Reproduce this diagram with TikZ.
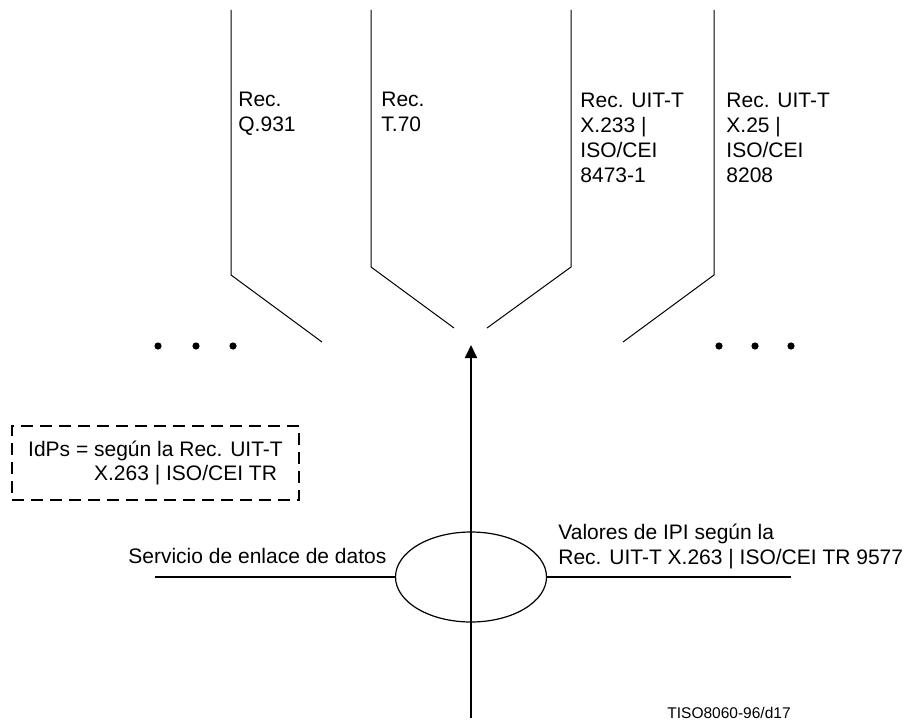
\documentclass[tikz,border=0pt]{standalone}
\usepackage{fontspec}
\setmainfont{Liberation Sans}
\usetikzlibrary{arrows.meta,shapes.geometric,positioning}

\begin{document}
\begin{tikzpicture}[
    x=0.5pt, y=-0.5pt,
    lbl/.style={inner sep=0pt, anchor=north west, align=left, font=\fontsize{10.5}{12.5}\selectfont},
    branch/.style={line width=0.5pt},
    lead/.style={line width=1pt},
    arr/.style={-{Triangle[length=6.5pt, width=6pt]}, line width=1pt},
    dot/.style={circle, fill, inner sep=0pt, minimum size=3.6pt},
    note/.style={draw, dash pattern=on 6pt off 3.5pt, line width=0.9pt, minimum width=143.5pt, minimum height=37pt, align=left, font=\fontsize{10.5}{12}\selectfont}
]
\useasboundingbox (0,0) rectangle (908,727);

\coordinate (qTop) at (231,10);
\coordinate (qBend) at (231,275);
\coordinate (qEnd) at (322,342);
\coordinate (tTop) at (371,10);
\coordinate (tBend) at (371,267);
\coordinate (tEnd) at (454,328);
\coordinate (xTop) at (571,10);
\coordinate (xBend) at (571,267);
\coordinate (xEnd) at (487,328);
\coordinate (pTop) at (714,10);
\coordinate (pBend) at (714,275);
\coordinate (pEnd) at (623,342);

\draw[branch] (qTop) -- (qBend) -- (qEnd);
\draw[branch] (tTop) -- (tBend) -- (tEnd);
\draw[branch] (xTop) -- (xBend) -- (xEnd);
\draw[branch] (pTop) -- (pBend) -- (pEnd);

\node[lbl] (recQ) at (238,92) {Rec.\\Q.931};
\node[lbl] (recT) at (381,92) {Rec.\\T.70};
\node[lbl] (recX) at (580,93) {Rec. UIT-T\\X.233 |\\ISO/CEI\\8473-1};
\node[lbl] (recP) at (726,93) {Rec. UIT-T\\X.25 |\\ISO/CEI\\8208};

\foreach \x/\n in {158/dl1,196/dl2,233/dl3,719/dr1,755/dr2,791/dr3}
    \node[dot] (\n) at (\x,346) {};

\node[note] (idps) at (155.5,463) {IdPs = según la Rec. UIT-T\\\phantom{IdPs = }X.263 | ISO/CEI TR};

\node[ellipse, draw, line width=0.6pt, minimum width=75.5pt, minimum height=45pt, inner sep=0pt] (ipi) at (471,577) {};

\coordinate (foot) at (471,718);
\coordinate (apex) at (471,345);
\coordinate (wEnd) at (155,577);
\coordinate (eEnd) at (791,577);

\draw[arr] (foot) -- (apex);
\draw[lead] (ipi.west) -- (wEnd);
\draw[lead] (ipi.east) -- (eEnd);

\node[lbl, anchor=base west] (serv) at (128,563) {Servicio de enlace de datos};
\node[lbl] (vals) at (558,524) {Valores de IPI según la\\Rec. UIT-T X.263 | ISO/CEI TR 9577};
\node[lbl, anchor=base west, font=\fontsize{7.75}{9}\selectfont] (ref) at (667,718) {TISO8060-96/d17};
\end{tikzpicture}
\end{document}
